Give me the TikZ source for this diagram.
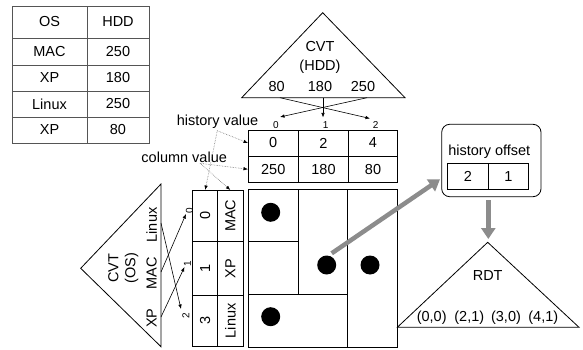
\documentclass[tikz,border=0pt]{standalone}
\usepackage{fontspec}
\setmainfont{Liberation Sans}
\usetikzlibrary{arrows.meta,calc}
\definecolor{lgray}{HTML}{8C8C8C}
\definecolor{tgray}{HTML}{555555}
\definecolor{dgray}{HTML}{777777}
\begin{document}
\begin{tikzpicture}[x=1pt,y=-1pt,
  every node/.style={font=\fontsize{14.5}{17}\selectfont, inner sep=0pt, outer sep=0pt},
  cell/.style={draw, line width=0.8pt, anchor=center},
  ocell/.style={cell, draw=tgray},
  smalltxt/.style={font=\fontsize{10}{12}\selectfont},
  thinline/.style={line width=0.8pt},
  tinyarr/.style={line width=0.6pt, -{Latex[length=4.5pt,width=3.5pt]}},
  dotarr/.style={densely dotted, draw=dgray, line width=0.6pt, -{Latex[length=4.5pt,width=3.5pt,color=black]}},
  bigarr/.style={draw=lgray, line width=4.5pt, -{Triangle[length=11pt,width=14pt,color=lgray]}},
  blackdot/.style={circle, fill=black, minimum size=19pt}]
\useasboundingbox (0,0) rectangle (583,350);

% ---------- OS / HDD table ----------
\node[ocell, minimum width=75pt, minimum height=32pt] (t00) at (49.5,22) {OS};
\node[ocell, minimum width=62pt, minimum height=32pt] (t01) at (118,22) {HDD};
\node[ocell, minimum width=75pt, minimum height=27pt] (t10) at (49.5,51.5) {MAC};
\node[ocell, minimum width=62pt, minimum height=27pt] (t11) at (118,51.5) {250};
\node[ocell, minimum width=75pt, minimum height=26pt] (t20) at (49.5,78) {XP};
\node[ocell, minimum width=62pt, minimum height=26pt] (t21) at (118,78) {180};
\node[ocell, minimum width=75pt, minimum height=26pt] (t30) at (49.5,104) {Linux};
\node[ocell, minimum width=62pt, minimum height=26pt] (t31) at (118,104) {250};
\node[ocell, minimum width=75pt, minimum height=26pt] (t40) at (49.5,130) {XP};
\node[ocell, minimum width=62pt, minimum height=26pt] (t41) at (118,130) {80};

% ---------- CVT (HDD) ----------
\coordinate (hA) at (322.7,12.7);
\coordinate (hL) at (241.7,97.7);
\coordinate (hR) at (405,97.7);
\draw[thinline] (hA) -- (hL) -- (hR) -- cycle;
\node (hcvt) at (320,46.7) {CVT};
\node (hhdd) at (320,66.7) {(HDD)};
\node (h80) at (276.7,87) {80};
\node (h180) at (320,87) {180};
\node (h250) at (363,87) {250};
\coordinate (b80) at (280,97.7);
\coordinate (b180) at (323,97.7);
\coordinate (b250) at (367,97.7);
\node[smalltxt] (hl0) at (276,125) {0};
\node[smalltxt] (hl1) at (325.7,125) {1};
\node[smalltxt] (hl2) at (375.7,125) {2};
\coordinate (e0) at (280,117);
\coordinate (e1) at (323,117.5);
\coordinate (e2) at (370,118.5);
\draw[tinyarr] (b80) -- (e2);
\draw[tinyarr] (b180) -- (e1);
\draw[tinyarr] (b250) -- (e0);

% ---------- history table ----------
\node[cell, minimum width=50.5pt, minimum height=26pt] (hv0) at (273.25,143) {0};
\node[cell, minimum width=50pt, minimum height=26pt] (hv1) at (323.5,143) {2};
\node[cell, minimum width=49pt, minimum height=26pt] (hv2) at (373,143) {4};
\node[cell, minimum width=50.5pt, minimum height=26.5pt] (cv0) at (273.25,169.25) {250};
\node[cell, minimum width=50pt, minimum height=26.5pt] (cv1) at (323.5,169.25) {180};
\node[cell, minimum width=49pt, minimum height=26.5pt] (cv2) at (373,169.25) {80};

% ---------- main grid ----------
\node[cell, minimum width=50.5pt, minimum height=52.2pt] (gA) at (273.25,215.6) {};
\node[cell, minimum width=50.5pt, minimum height=52.6pt] (gB) at (273.25,268) {};
\node[cell, minimum width=49.2pt, minimum height=104.8pt] (gC) at (323.1,241.9) {};
\node[cell, minimum width=49.8pt, minimum height=157.5pt] (gD) at (372.6,268.25) {};
\node[cell, minimum width=99.7pt, minimum height=52.7pt] (gE) at (297.85,320.65) {};
\node[blackdot] (dA) at (270.7,212.3) {};
\node[blackdot] (dC) at (326.7,265) {};
\node[blackdot] (dD) at (370,265) {};
\node[blackdot] (dE) at (270.7,316.7) {};

% ---------- column table ----------
\node[cell, minimum width=25pt, minimum height=51.7pt] (c00) at (205.2,215.85) {\rotatebox{90}{0}};
\node[cell, minimum width=25.3pt, minimum height=51.7pt] (c01) at (230.35,215.85) {\rotatebox{90}{MAC}};
\node[cell, minimum width=25pt, minimum height=53.3pt] (c10) at (205.2,268.35) {\rotatebox{90}{1}};
\node[cell, minimum width=25.3pt, minimum height=53.3pt] (c11) at (230.35,268.35) {\rotatebox{90}{XP}};
\node[cell, minimum width=25pt, minimum height=51.7pt] (c20) at (205.2,320.85) {\rotatebox{90}{3}};
\node[cell, minimum width=25.3pt, minimum height=51.7pt] (c21) at (230.35,320.85) {\rotatebox{90}{Linux}};

% ---------- CVT (OS) ----------
\coordinate (oA) at (80.7,268.3);
\coordinate (oT) at (161,184);
\coordinate (oB) at (161,346.7);
\draw[thinline] (oA) -- (oT) -- (oB) -- cycle;
\node[rotate=90] (ocvt) at (113.3,268.3) {CVT};
\node[rotate=90] (oos) at (131.7,268.3) {(OS)};
\node[rotate=90] (olin) at (151.7,225) {Linux};
\node[rotate=90] (omac) at (151.7,273.3) {MAC};
\node[rotate=90] (oxp) at (151.7,318.3) {XP};
\coordinate (sLin) at (161,223);
\coordinate (sMac) at (161,272);
\coordinate (sXp) at (161,317);
\node[smalltxt, rotate=90] (ol0) at (189.5,211) {0};
\node[smalltxt, rotate=90] (ol1) at (187.5,264) {1};
\node[smalltxt, rotate=90] (ol2) at (186,316) {2};
\coordinate (f0) at (186,214);
\coordinate (f1) at (184.5,267);
\coordinate (f2) at (181,309);
\draw[tinyarr] (sLin) -- (f2);
\draw[tinyarr] (sMac) -- (f0);
\draw[tinyarr] (sXp) -- (f1);

% ---------- labels with dotted arrows ----------
\node (hvl) at (217.5,122) {history value};
\node (cvl) at (184.2,157) {column value};
\coordinate (hvs) at (217.3,130.7);
\coordinate (cvs) at (200,163.3);
\draw[dotarr] (hvs) -- (hv0.west);
\draw[dotarr] (hvs) -- (c00.north);
\draw[dotarr] (cvs) -- (cv0.west);
\draw[dotarr] (cvs) -- (c01.north);

% ---------- history offset ----------
\node[draw, thinline, rounded corners=8pt, minimum width=99.3pt, minimum height=72.4pt] (hob) at (491.35,160.5) {};
\node (hot) at (489.3,151.7) {history offset};
\node[cell, minimum width=40.6pt, minimum height=26pt] (ho0) at (468,176.3) {2};
\node[cell, minimum width=40pt, minimum height=26pt] (ho1) at (508.3,176.3) {1};

% ---------- RDT ----------
\coordinate (rA) at (487.7,242.3);
\coordinate (rL) at (397.3,327.3);
\coordinate (rR) at (579,327.3);
\draw[thinline] (rA) -- (rL) -- (rR) -- cycle;
\node (rdt) at (487.7,276) {RDT};
\node (r0) at (431.7,317.7) {(0,0)};
\node (r1) at (469.3,317.7) {(2,1)};
\node (r2) at (506,317.7) {(3,0)};
\node (r3) at (543.3,317.7) {(4,1)};

% ---------- gray arrows ----------
\coordinate (gs) at (331.7,253.3);
\coordinate (ge) at (440,179.3);
\coordinate (ds) at (488.3,200);
\coordinate (de) at (488.3,239);
\draw[bigarr] (gs) -- (ge);
\draw[bigarr] (ds) -- (de);
\end{tikzpicture}
\end{document}
